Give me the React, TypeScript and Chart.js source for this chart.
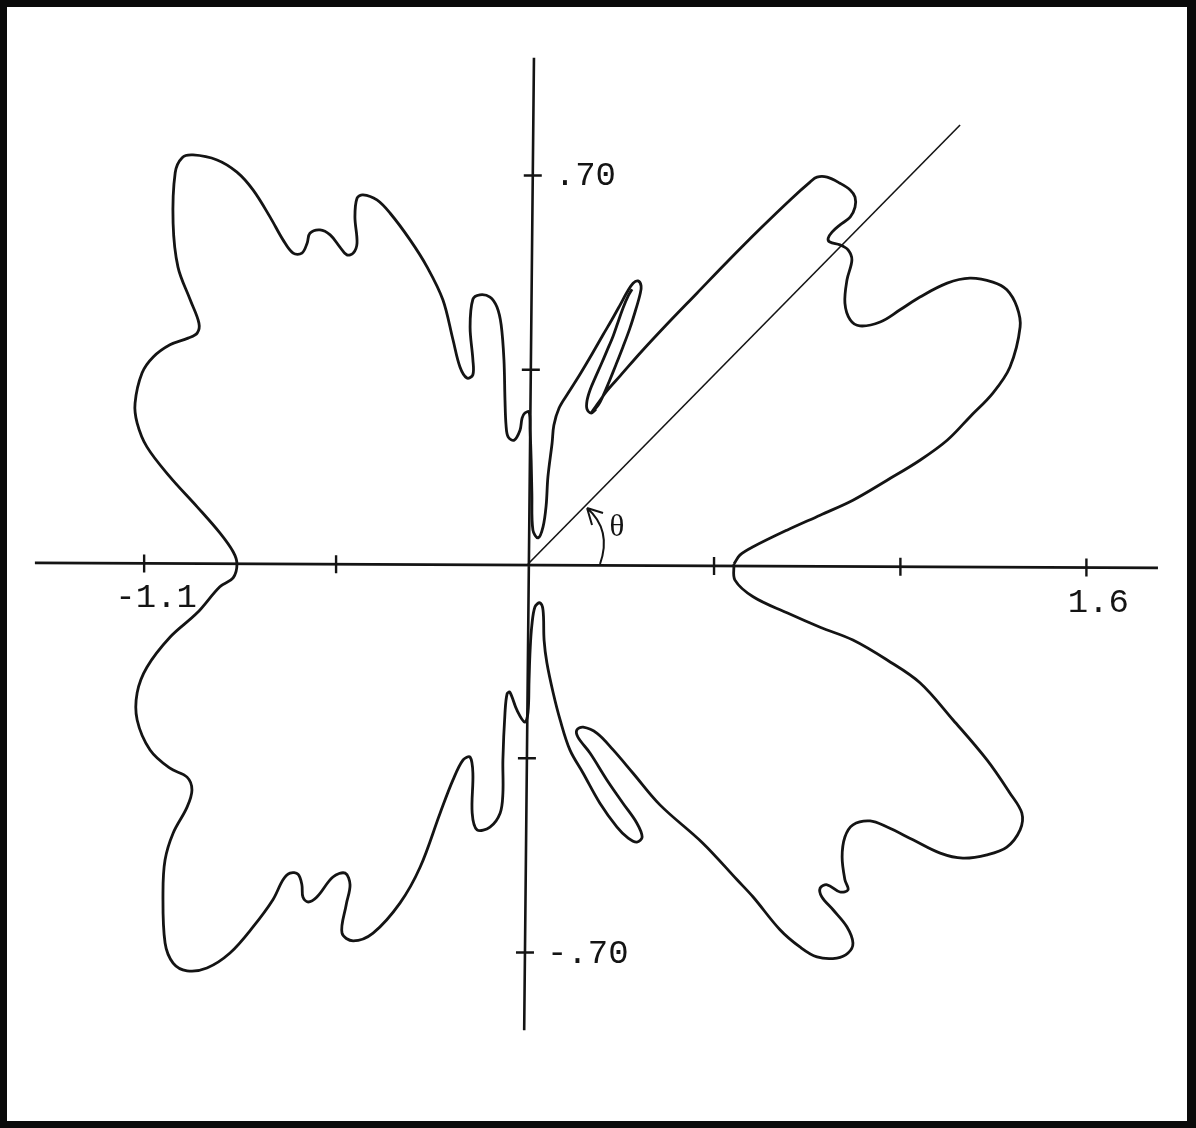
import React, { useEffect, useRef } from "react";
import { Chart, registerables } from "chart.js";

Chart.register(...registerables);

type Pt = [number, number];

// Closed pattern curve, traced counter-clockwise from theta = 0.
const upperRight: Pt[] = [
  [0.59, 0.0], [0.607, 0.016], [0.645, 0.031], [0.742, 0.061], [0.837, 0.088],
  [0.931, 0.115], [1.029, 0.151], [1.123, 0.187], [1.201, 0.223], [1.266, 0.265],
  [1.332, 0.308], [1.381, 0.355], [1.41, 0.427], [1.401, 0.463], [1.372, 0.494],
  [1.332, 0.508], [1.266, 0.515], [1.201, 0.506], [1.123, 0.481], [1.066, 0.458],
  [1.009, 0.436], [0.951, 0.429], [0.923, 0.44], [0.908, 0.47], [0.914, 0.512],
  [0.928, 0.548], [0.917, 0.566], [0.894, 0.575], [0.865, 0.58], [0.86, 0.587],
  [0.871, 0.598], [0.894, 0.611], [0.923, 0.625], [0.937, 0.643], [0.937, 0.661],
  [0.923, 0.674], [0.894, 0.686], [0.857, 0.697], [0.828, 0.697], [0.808, 0.688],
  [0.751, 0.656], [0.665, 0.604], [0.573, 0.546], [0.484, 0.488], [0.398, 0.432],
  [0.324, 0.382], [0.264, 0.339], [0.226, 0.312], [0.201, 0.29], [0.183, 0.274],
  [0.201, 0.286], [0.215, 0.303], [0.232, 0.328], [0.252, 0.359], [0.272, 0.391],
  [0.292, 0.425], [0.309, 0.459], [0.321, 0.486], [0.324, 0.501], [0.315, 0.51],
  [0.301, 0.506], [0.284, 0.49], [0.264, 0.467], [0.241, 0.441], [0.215, 0.413],
  [0.183, 0.378], [0.149, 0.342], [0.115, 0.308], [0.089, 0.281], [0.074, 0.25],
  [0.069, 0.218], [0.057, 0.157], [0.052, 0.106], [0.043, 0.067], [0.029, 0.047],
  [0.014, 0.061], [0.011, 0.128], [0.009, 0.187], [0.006, 0.241], [0.003, 0.274],
];

const upperLeft: Pt[] = [
  [-0.009, 0.272], [-0.017, 0.263], [-0.023, 0.241], [-0.04, 0.223], [-0.057, 0.229],
  [-0.063, 0.25], [-0.066, 0.295], [-0.069, 0.368], [-0.077, 0.431], [-0.089, 0.463],
  [-0.109, 0.481], [-0.138, 0.485], [-0.158, 0.477], [-0.166, 0.427], [-0.158, 0.368],
  [-0.158, 0.341], [-0.175, 0.335], [-0.195, 0.355], [-0.215, 0.404], [-0.244, 0.476],
  [-0.289, 0.535], [-0.338, 0.584], [-0.395, 0.632], [-0.433, 0.656], [-0.473, 0.665],
  [-0.49, 0.659], [-0.496, 0.625], [-0.49, 0.578], [-0.501, 0.56], [-0.519, 0.557],
  [-0.539, 0.571], [-0.567, 0.593], [-0.596, 0.602], [-0.625, 0.596], [-0.633, 0.578],
  [-0.648, 0.56], [-0.673, 0.56], [-0.702, 0.584], [-0.739, 0.625], [-0.788, 0.674],
  [-0.834, 0.706], [-0.891, 0.728], [-0.96, 0.737], [-0.991, 0.732], [-1.011, 0.705],
  [-1.017, 0.614], [-1.003, 0.535], [-0.968, 0.476], [-0.943, 0.434], [-0.948, 0.416],
  [-0.974, 0.407], [-1.026, 0.395], [-1.074, 0.373], [-1.106, 0.344], [-1.126, 0.29],
  [-1.12, 0.254], [-1.092, 0.211], [-1.026, 0.157], [-0.948, 0.103], [-0.883, 0.056],
  [-0.845, 0.022], [-0.834, 0.0],
];

const lowerLeft: Pt[] = [
  [-0.845, -0.025], [-0.883, -0.041], [-0.948, -0.088], [-1.026, -0.132], [-1.092, -0.186],
  [-1.12, -0.232], [-1.12, -0.281], [-1.083, -0.335], [-1.026, -0.368], [-0.977, -0.384],
  [-0.963, -0.407], [-0.977, -0.438], [-1.017, -0.485], [-1.04, -0.533], [-1.046, -0.593],
  [-1.04, -0.683], [-1.017, -0.719], [-0.977, -0.733], [-0.92, -0.728], [-0.854, -0.701],
  [-0.788, -0.654], [-0.731, -0.605], [-0.702, -0.569], [-0.682, -0.557], [-0.659, -0.559],
  [-0.648, -0.578], [-0.645, -0.6], [-0.63, -0.609], [-0.605, -0.6], [-0.559, -0.564],
  [-0.524, -0.557], [-0.51, -0.578], [-0.521, -0.614], [-0.533, -0.665], [-0.501, -0.679],
  [-0.444, -0.665], [-0.367, -0.611], [-0.309, -0.546], [-0.252, -0.449], [-0.215, -0.389],
  [-0.186, -0.353], [-0.166, -0.348], [-0.158, -0.377], [-0.16, -0.449], [-0.146, -0.479],
  [-0.109, -0.474], [-0.08, -0.449], [-0.072, -0.413], [-0.072, -0.353], [-0.066, -0.268],
  [-0.06, -0.234], [-0.052, -0.231], [-0.032, -0.263], [-0.009, -0.285],
];

const lowerRight: Pt[] = [
  [0.0, -0.267], [0.003, -0.209], [0.006, -0.155], [0.011, -0.11], [0.02, -0.077],
  [0.034, -0.07], [0.043, -0.083], [0.046, -0.137], [0.054, -0.178], [0.072, -0.232],
  [0.092, -0.281], [0.12, -0.335], [0.158, -0.377], [0.206, -0.431], [0.255, -0.474],
  [0.287, -0.494], [0.312, -0.501], [0.327, -0.492], [0.312, -0.467], [0.272, -0.431],
  [0.226, -0.389], [0.178, -0.341], [0.143, -0.312], [0.14, -0.299], [0.158, -0.294],
  [0.198, -0.305], [0.244, -0.335], [0.301, -0.377], [0.378, -0.434], [0.501, -0.503],
  [0.599, -0.569], [0.645, -0.6], [0.722, -0.659], [0.779, -0.69], [0.828, -0.708],
  [0.885, -0.71], [0.917, -0.701], [0.931, -0.683], [0.914, -0.654], [0.874, -0.623],
  [0.842, -0.6], [0.837, -0.584], [0.857, -0.578], [0.894, -0.591], [0.917, -0.587],
  [0.908, -0.569], [0.9, -0.528], [0.908, -0.492], [0.931, -0.47], [0.98, -0.463],
  [1.029, -0.474], [1.103, -0.497], [1.181, -0.521], [1.246, -0.53], [1.315, -0.524],
  [1.372, -0.51], [1.41, -0.479], [1.415, -0.449], [1.381, -0.413], [1.315, -0.353],
  [1.218, -0.281], [1.123, -0.214], [1.029, -0.173], [0.931, -0.137], [0.837, -0.114],
  [0.742, -0.088], [0.645, -0.059], [0.593, -0.029], [0.59, 0.0],
];

// Inner edge of the narrow upper lobe
const upperLobeInner: Pt[] = [
  [0.195, 0.279], [0.181, 0.272], [0.169, 0.279], [0.169, 0.294], [0.178, 0.314],
  [0.192, 0.335], [0.209, 0.359], [0.226, 0.384], [0.244, 0.411], [0.258, 0.436],
  [0.272, 0.461], [0.287, 0.483], [0.298, 0.495],
];

// Reference ray for the angle theta
const thetaRay: Pt[] = [[0, 0], [1.238, 0.791]];

const xTicks = [-1.1, -0.55, 0.533, 1.067, 1.6];
const yTicks = [0.7, 0.35, -0.35, -0.7];
const xLabelValues = [-1.1, 1.6];
const xLabelTexts = ["-1.1", "1.6"];
const yLabelValues = [0.7, -0.7];
const yLabelTexts = [".70", "-.70"];

const W = 1196;
const H = 1128;
const X_MIN = -1.513;
const X_MAX = 1.914;
const Y_MIN = -1.0162;
const Y_MAX = 1.0162;
// hand-ruled axes: end points (x axis runs slightly downhill, y axis leans a little)
const X_AXIS_LEFT: Pt = [-1.413, 0.002];
const X_AXIS_RIGHT: Pt = [1.805, -0.007];
const Y_AXIS_TOP: Pt = [0.017, 0.912];
const Y_AXIS_BOTTOM: Pt = [-0.011, -0.84];

const INK = "#141414";

const toXY = (pts: Pt[]) => pts.map(([x, y]) => ({ x, y }));

const lerpAt = (a: Pt, b: Pt, along: number, idx: 0 | 1) => {
  const t = (along - a[idx]) / (b[idx] - a[idx]);
  return a[1 - idx] + t * (b[1 - idx] - a[1 - idx]);
};

const paperPlugin = {
  id: "paper",
  beforeDraw(chart: any) {
    const ctx = chart.ctx as CanvasRenderingContext2D;
    ctx.save();
    ctx.fillStyle = "#ffffff";
    ctx.fillRect(0, 0, chart.width, chart.height);
    ctx.restore();
  },
  afterDraw(chart: any) {
    const ctx = chart.ctx as CanvasRenderingContext2D;
    ctx.save();
    ctx.strokeStyle = "#0a0a0a";
    ctx.lineWidth = 7;
    ctx.strokeRect(3.5, 3.5, chart.width - 7, chart.height - 7);
    ctx.fillStyle = "#0a0a0a";
    ctx.fillRect(chart.width - 9, 0, 9, chart.height);
    ctx.restore();
  },
};

const axesPlugin = {
  id: "handAxes",
  beforeDatasetsDraw(chart: any) {
    const ctx = chart.ctx as CanvasRenderingContext2D;
    const xs = chart.scales.x;
    const ys = chart.scales.y;
    const px = (v: number) => xs.getPixelForValue(v);
    const py = (v: number) => ys.getPixelForValue(v);
    const ox = px(0);
    const oy = py(0);
    ctx.save();
    ctx.strokeStyle = INK;
    ctx.lineWidth = 2.6;

    ctx.beginPath();
    ctx.moveTo(px(X_AXIS_LEFT[0]), py(X_AXIS_LEFT[1]));
    ctx.lineTo(px(X_AXIS_RIGHT[0]), py(X_AXIS_RIGHT[1]));
    ctx.moveTo(px(Y_AXIS_TOP[0]), py(Y_AXIS_TOP[1]));
    ctx.lineTo(px(Y_AXIS_BOTTOM[0]), py(Y_AXIS_BOTTOM[1]));
    ctx.stroke();

    ctx.lineWidth = 2.4;
    ctx.beginPath();
    xTicks.forEach((v) => {
      const x = px(v);
      const y = py(lerpAt(X_AXIS_LEFT, X_AXIS_RIGHT, v, 0));
      ctx.moveTo(x, y - 9);
      ctx.lineTo(x, y + 9);
    });
    yTicks.forEach((v) => {
      const y = py(v);
      const x = px(lerpAt(Y_AXIS_TOP, Y_AXIS_BOTTOM, v, 1));
      ctx.moveTo(x - 9, y);
      ctx.lineTo(x + 9, y);
    });
    ctx.stroke();

    ctx.fillStyle = INK;
    ctx.font = '34px "Liberation Mono"';
    ctx.textAlign = "center";
    ctx.textBaseline = "middle";
    xLabelValues.forEach((v, i) => {
      const y = py(lerpAt(X_AXIS_LEFT, X_AXIS_RIGHT, v, 0));
      ctx.fillText(xLabelTexts[i], px(v) + 12, y + 35);
    });
    ctx.textAlign = "left";
    yLabelValues.forEach((v, i) => {
      const x = px(lerpAt(Y_AXIS_TOP, Y_AXIS_BOTTOM, v, 1));
      ctx.fillText(yLabelTexts[i], x + 22, py(v) + 1);
    });

    // angle arc with arrow head on the ray
    const tipX = ox + 59;
    const tipY = oy - 56;
    ctx.lineWidth = 2;
    ctx.beginPath();
    ctx.moveTo(ox + 72, oy);
    ctx.quadraticCurveTo(ox + 84, oy - 34, tipX, tipY);
    ctx.moveTo(tipX, tipY);
    ctx.lineTo(tipX + 5, tipY + 17);
    ctx.moveTo(tipX, tipY);
    ctx.lineTo(tipX + 16, tipY + 5);
    ctx.stroke();

    ctx.font = '31px "Liberation Serif"';
    ctx.textAlign = "center";
    ctx.fillText("\u03b8", ox + 89, oy - 36);
    ctx.restore();
  },
};

export default function App() {
  const canvasRef = useRef<HTMLCanvasElement | null>(null);

  useEffect(() => {
    const canvas = canvasRef.current;
    if (!canvas) return;
    const curve = [...upperRight, ...upperLeft, ...lowerLeft, ...lowerRight];
    const lineStyle = {
      showLine: true,
      borderColor: INK,
      pointRadius: 0,
      fill: false,
    };
    const chart = new Chart(canvas, {
      type: "scatter",
      data: {
        datasets: [
          { ...lineStyle, data: toXY(curve), borderWidth: 2.8, tension: 0.35 },
          { ...lineStyle, data: toXY(upperLobeInner), borderWidth: 2.8, tension: 0.35 },
          { ...lineStyle, data: toXY(thetaRay), borderWidth: 1.6, tension: 0 },
        ],
      } as any,
      options: {
        animation: false,
        responsive: false,
        devicePixelRatio: 1,
        events: [],
        layout: { padding: 0 },
        plugins: { legend: { display: false }, tooltip: { enabled: false } },
        scales: {
          x: { type: "linear", display: false, min: X_MIN, max: X_MAX },
          y: { type: "linear", display: false, min: Y_MIN, max: Y_MAX },
        },
      },
      plugins: [paperPlugin, axesPlugin],
    });
    return () => chart.destroy();
  }, []);

  return (
    <div style={{ position: "fixed", left: 0, top: 0, width: W, height: H, background: "#fff" }}>
      <canvas ref={canvasRef} width={W} height={H} style={{ display: "block", width: W, height: H }} />
    </div>
  );
}
